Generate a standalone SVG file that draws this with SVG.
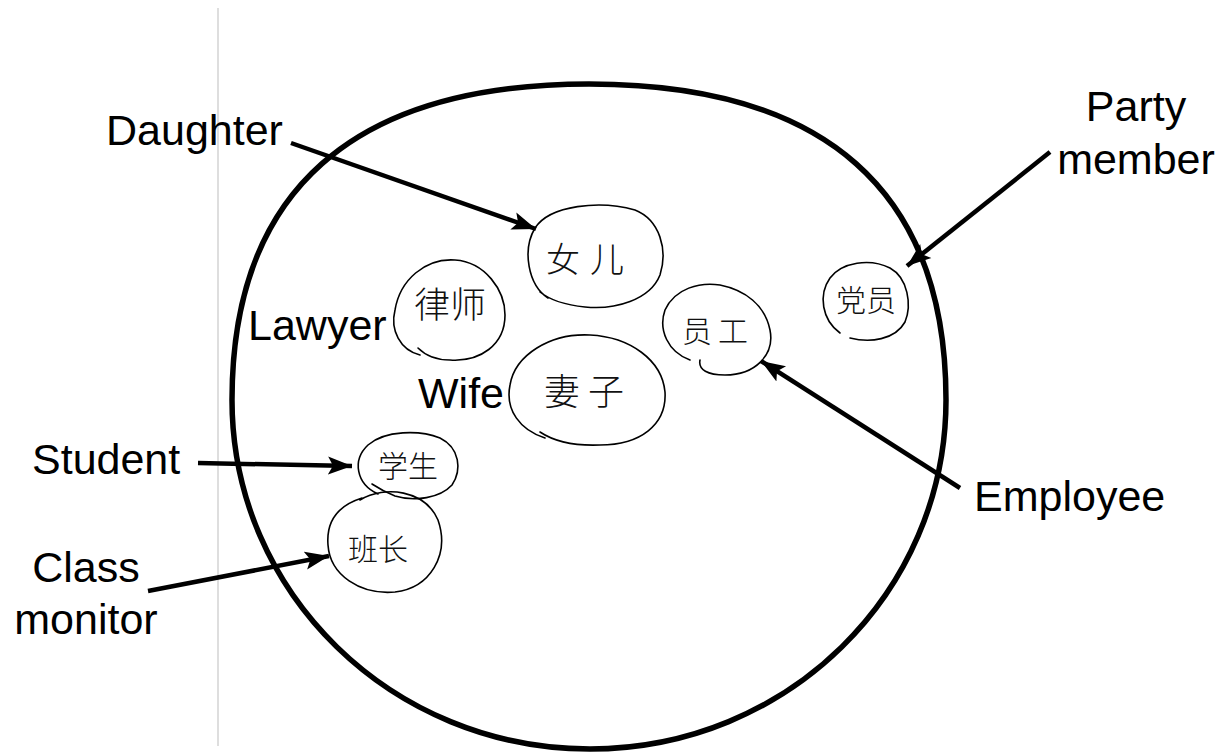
<svg xmlns="http://www.w3.org/2000/svg" width="1226" height="756" viewBox="0 0 1226 756">
  <style>
    .label { font-family: "Liberation Sans", Arial, sans-serif; font-size: 43px; fill: #000; }
    .hand { font-family: "Noto Sans CJK SC", "Noto Sans CJK JP", sans-serif; font-weight: 300; fill: #111; }
    .bubble { fill: none; stroke: #000; stroke-width: 1.6; stroke-linecap: round; stroke-linejoin: round; }
    .arrow { fill: none; stroke: #000; stroke-width: 4.5; marker-end: url(#head); }
  </style>
  <defs>
    <marker id="head" markerUnits="userSpaceOnUse" markerWidth="26" markerHeight="20" refX="24" refY="10" orient="auto">
      <path d="M0,1 L24,10 L0,19 L5,10 Z" fill="#000"/>
    </marker>
  </defs>

  <rect width="1226" height="756" fill="#fff"/>

  <!-- page margin rule -->
  <line x1="218" y1="8" x2="218" y2="746" stroke="#c8c8c8" stroke-width="1.2"/>

  <!-- outer boundary: hand-drawn loop, slightly fuller across the top -->
  <g id="boundary">
    <path d="M232,400 C232,191 353,84 589,84 C825,84 946,191 946,400 C946,593 787,749 590,749 C392,749 232,593 232,400 Z" fill="none" stroke="#000" stroke-width="5.5"/>
  </g>

  <!-- roles -->
  <g id="daughter">
    <path class="bubble" d="M548,298 C528,285 522,250 535,228 C550,205 600,200 635,210 C660,220 668,250 660,275 C650,300 615,310 585,307 C565,305 550,300 540,292"/>
    <text class="hand" x="590" y="272" font-size="34" text-anchor="middle" letter-spacing="10">女儿</text>
    <text class="label" x="106" y="145">Daughter</text>
  </g>

  <g id="lawyer">
    <path class="bubble" d="M420,355 C400,350 390,330 395,310 C400,280 425,258 455,260 C485,262 505,290 505,315 C505,345 480,362 450,360 C435,360 425,355 418,348"/>
    <text class="hand" x="450" y="318" font-size="36" text-anchor="middle">律师</text>
    <text class="label" x="248" y="340">Lawyer</text>
  </g>

  <g id="wife">
    <path class="bubble" d="M545,438 C520,430 505,410 510,385 C515,355 550,333 590,335 C630,337 662,360 665,392 C667,425 640,445 600,445 C575,446 555,442 540,432"/>
    <text class="hand" x="588" y="405" font-size="36" text-anchor="middle" letter-spacing="8">妻子</text>
    <text class="label" x="418" y="408">Wife</text>
  </g>

  <g id="employee">
    <path class="bubble" d="M690,360 C668,352 658,330 665,310 C675,288 700,282 720,285 C745,290 765,305 770,330 C775,355 755,375 725,375 C708,375 698,370 700,360"/>
    <text class="hand" x="718" y="342" font-size="30" text-anchor="middle" letter-spacing="6">员工</text>
    <text class="label" x="974" y="511">Employee</text>
  </g>

  <g id="party-member">
    <path class="bubble" d="M840,333 C822,320 818,295 830,278 C842,262 870,258 890,268 C908,278 912,305 905,322 C895,340 870,343 850,338"/>
    <text class="hand" x="866" y="311" font-size="30" text-anchor="middle">党员</text>
    <text class="label" x="1136" y="121" text-anchor="middle">Party</text>
    <text class="label" x="1136" y="174" text-anchor="middle">member</text>
  </g>

  <g id="student">
    <path class="bubble" d="M378,494 C356,484 352,460 368,445 C385,430 420,430 440,438 C460,448 462,470 452,485 C440,498 415,502 395,496 C385,492 378,488 372,484"/>
    <text class="hand" x="408" y="477" font-size="30" text-anchor="middle">学生</text>
    <text class="label" x="32" y="474" font-size="44">Student</text>
  </g>

  <g id="class-monitor">
    <path class="bubble" d="M360,500 C385,485 425,490 438,520 C450,555 430,588 395,592 C360,595 330,575 328,545 C326,520 340,505 362,498"/>
    <text class="hand" x="378" y="560" font-size="30" text-anchor="middle">班长</text>
    <text class="label" x="86" y="582" text-anchor="middle">Class</text>
    <text class="label" x="86" y="634" text-anchor="middle">monitor</text>
  </g>

  <!-- pointers from labels to roles -->
  <g id="connectors">
    <line class="arrow" x1="291" y1="143" x2="536" y2="229"/>
    <line class="arrow" x1="1050" y1="152" x2="907" y2="266"/>
    <line class="arrow" x1="960" y1="488" x2="761" y2="361"/>
    <line class="arrow" x1="198" y1="463" x2="352" y2="466"/>
    <line class="arrow" x1="148" y1="591" x2="329" y2="556"/>
  </g>
</svg>
